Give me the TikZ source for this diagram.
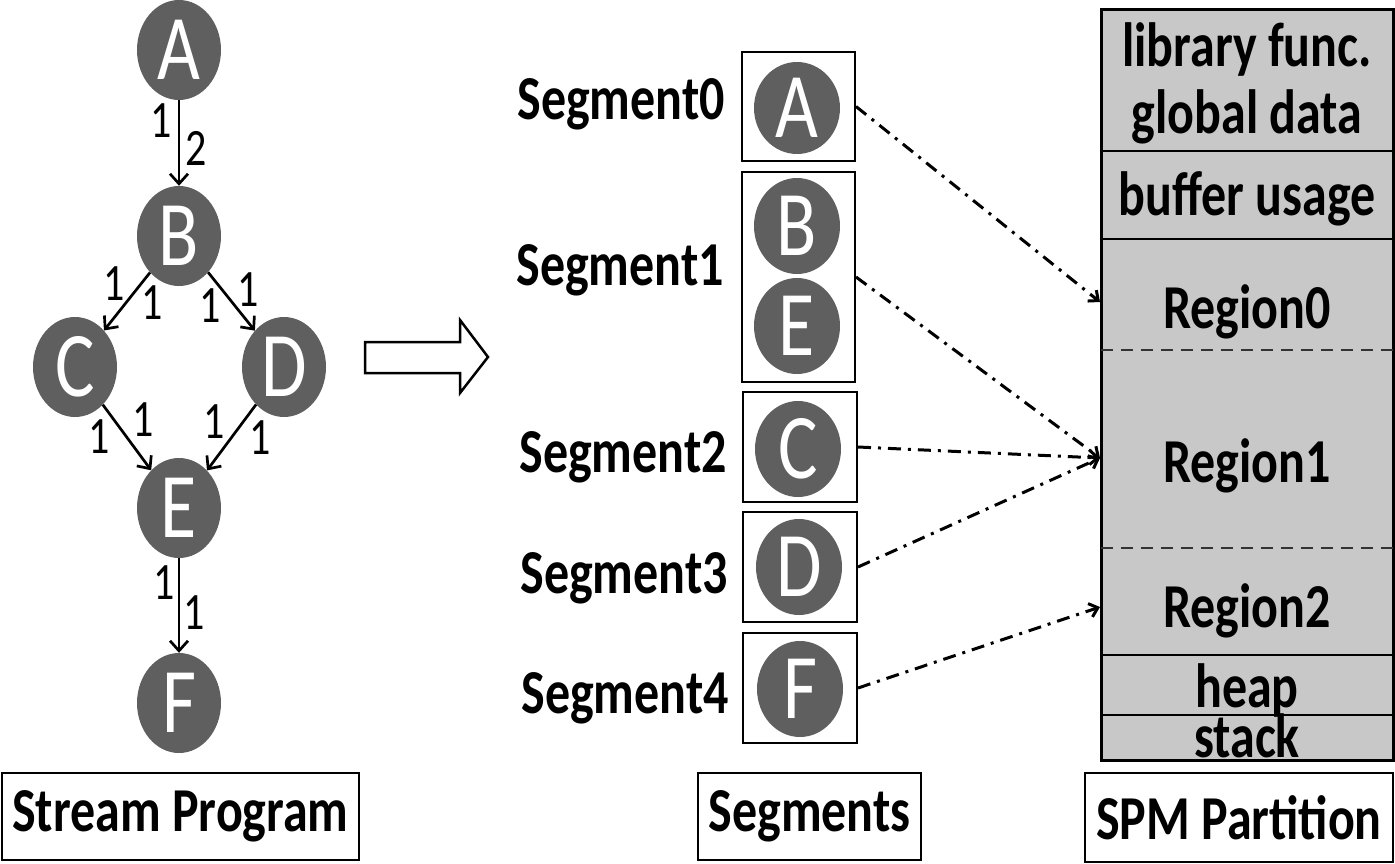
\documentclass[tikz,border=0pt]{standalone}
\usepackage{fontspec}
\setmainfont{Carlito}
\usepackage{graphicx}
\usetikzlibrary{arrows.meta}
\usetikzlibrary{positioning}
\usetikzlibrary{shapes.geometric}

\definecolor{filtergray}{RGB}{95,95,95}
\definecolor{spmgray}{RGB}{200,200,200}
\newcommand{\tall}[1]{\scalebox{1}[1.25]{#1}}

\tikzset{
  filter/.style={ellipse, fill=filtergray, text=white, inner sep=0pt,
    minimum width=84pt, minimum height=100pt, font=\fontsize{74}{80}\selectfont},
  segfilter/.style={filter, minimum width=86pt, minimum height=96pt},
  rate/.style={inner sep=0pt, font=\fontsize{42}{46}\selectfont},
  flow/.style={line width=2.7pt, -{Straight Barb[length=10pt,width=18pt]}},
  segbox/.style={draw, line width=2pt, inner sep=0pt},
  seglabel/.style={anchor=base east, inner sep=0pt, font=\bfseries\fontsize{50}{60}\selectfont},
  spmtext/.style={anchor=base, inner sep=0pt, font=\bfseries\fontsize{50}{60}\selectfont},
  caption/.style={draw, line width=1.5pt, inner sep=0pt, font=\bfseries\fontsize{50}{60}\selectfont},
  map/.style={line width=3pt, dash pattern=on 13pt off 7pt on 3pt off 7pt,
    -{Straight Barb[length=8pt,width=14pt]}}
}

\begin{document}
\begin{tikzpicture}[x=1pt, y=-1pt]

  \useasboundingbox (0,0) rectangle (1395,864);

  % ---------- Left side (stream graph) ----------

  % Filters
  \node[filter] at (179, 50) (A) {\tall{A}};
  \node[filter] at (179,236) (B) {\tall{B}};
  \node[filter] at ( 75,367) (C) {\tall{C}};
  \node[filter] at (284,367) (D) {\tall{D}};
  \node[filter] at (179,508) (E) {\tall{E}};
  \node[filter] at (179,703) (F) {\tall{F}};

  % Channels
  \draw[flow] (A) -- (B);
  \draw[flow] (B) -- (C);
  \draw[flow] (B) -- (D);
  \draw[flow] (C) -- (E);
  \draw[flow] (D) -- (E);
  \draw[flow] (E) -- (F);

  % Rates
  \node[rate] at (161,121) (AB1) {\tall{1}};
  \node[rate] at (196,148) (AB2) {\tall{2}};
  \node[rate] at (114,284) (BC1) {\tall{1}};
  \node[rate] at (152,303) (BC2) {\tall{1}};
  \node[rate] at (210,306) (BD1) {\tall{1}};
  \node[rate] at (248,290) (BD2) {\tall{1}};
  \node[rate] at ( 99,437) (CE1) {\tall{1}};
  \node[rate] at (143,420) (CE2) {\tall{1}};
  \node[rate] at (214,422) (DE1) {\tall{1}};
  \node[rate] at (260,438) (DE2) {\tall{1}};
  \node[rate] at (164,583) (EF1) {\tall{1}};
  \node[rate] at (194,613) (EF2) {\tall{1}};

  % Block arrow
  \draw[line width=2.5pt] (365,342) -- (460,342) -- (460,320) -- (488,357)
    -- (460,393) -- (460,373) -- (365,373) -- cycle;

  % ---------- Middle (segments) ----------

  % Boxes
  \node[segbox, minimum width=113pt, minimum height=109pt] at (798.5,106.5) (seg0) {};
  \node[segbox, minimum width=113pt, minimum height=210pt] at (798.5,277) (seg1) {};
  \node[segbox, minimum width=114pt, minimum height=110pt] at (800,447) (seg2) {};
  \node[segbox, minimum width=114pt, minimum height=110pt] at (800,567) (seg3) {};
  \node[segbox, minimum width=114pt, minimum height=110pt] at (800,688) (seg4) {};

  % Filters inside
  \node[segfilter, minimum height=92pt] at (797,108) (sA) {\tall{A}};
  \node[segfilter] at (797,226) (sB) {\tall{B}};
  \node[segfilter] at (797,326) (sE) {\tall{E}};
  \node[segfilter] at (798,449) (sC) {\tall{C}};
  \node[segfilter] at (799,567) (sD) {\tall{D}};
  \node[segfilter] at (800,689) (sF) {\tall{F}};

  % Labels
  \node[seglabel] at (725,120) (lab0) {\tall{Segment0}};
  \node[seglabel] at (724,285) (lab1) {\tall{Segment1}};
  \node[seglabel] at (727,472) (lab2) {\tall{Segment2}};
  \node[seglabel] at (728,593) (lab3) {\tall{Segment3}};
  \node[seglabel] at (729,713) (lab4) {\tall{Segment4}};

  % ---------- Right side (SPM) ----------

  % Shapes
  \draw[line width=3pt, fill=spmgray] (1101,10) rectangle (1393,760);
  \draw[line width=2.5pt] (1101,151) -- (1393,151);
  \draw[line width=2.5pt] (1101,239) -- (1393,239);
  \draw[line width=2.5pt] (1101,655) -- (1393,655);
  \draw[line width=2.5pt] (1101,715) -- (1393,715);
  \draw[line width=2.5pt, black!80, dash pattern=on 12pt off 8pt] (1101,350) -- (1393,350);
  \draw[line width=2.5pt, black!80, dash pattern=on 12pt off 8pt] (1101,548) -- (1393,548);

  % Labels
  \node[spmtext] at (1247, 67) (libfunc) {\tall{library func.}};
  \node[spmtext] at (1247,134) (global) {\tall{global data}};
  \node[spmtext] at (1247,215) (buffer) {\tall{buffer usage}};
  \node[spmtext] at (1247,328) (reg0) {\tall{Region0}};
  \node[spmtext] at (1247,482) (reg1) {\tall{Region1}};
  \node[spmtext] at (1247,627) (reg2) {\tall{Region2}};
  \node[spmtext] at (1247,707) (heap) {\tall{heap}};
  \node[spmtext] at (1247,757) (stack) {\tall{stack}};

  % Entry points
  \coordinate (r0) at (1100,302);
  \coordinate (r1) at (1100,458);
  \coordinate (r2) at (1100,607);

  % ---------- Mapping ----------
  \draw[map] (seg0.east) -- (r0);
  \draw[map] (seg1.east) -- (r1);
  \draw[map] (seg2.east) -- (r1);
  \draw[map] (seg3.east) -- (r1);
  \draw[map] (seg4.east) -- (r2);

  % ---------- Titles ----------
  \node[caption, minimum width=357pt, minimum height=87pt] at (180.5,816.5) (streamcap) {\tall{Stream Program}};
  \node[caption, minimum width=223pt, minimum height=87pt] at (809.5,816.5) (segcap) {\tall{Segments}};
  \node[caption, minimum width=308pt, minimum height=89pt] at (1239,817.5) (spmcap) {\tall{SPM Partition}};

\end{tikzpicture}
\end{document}
